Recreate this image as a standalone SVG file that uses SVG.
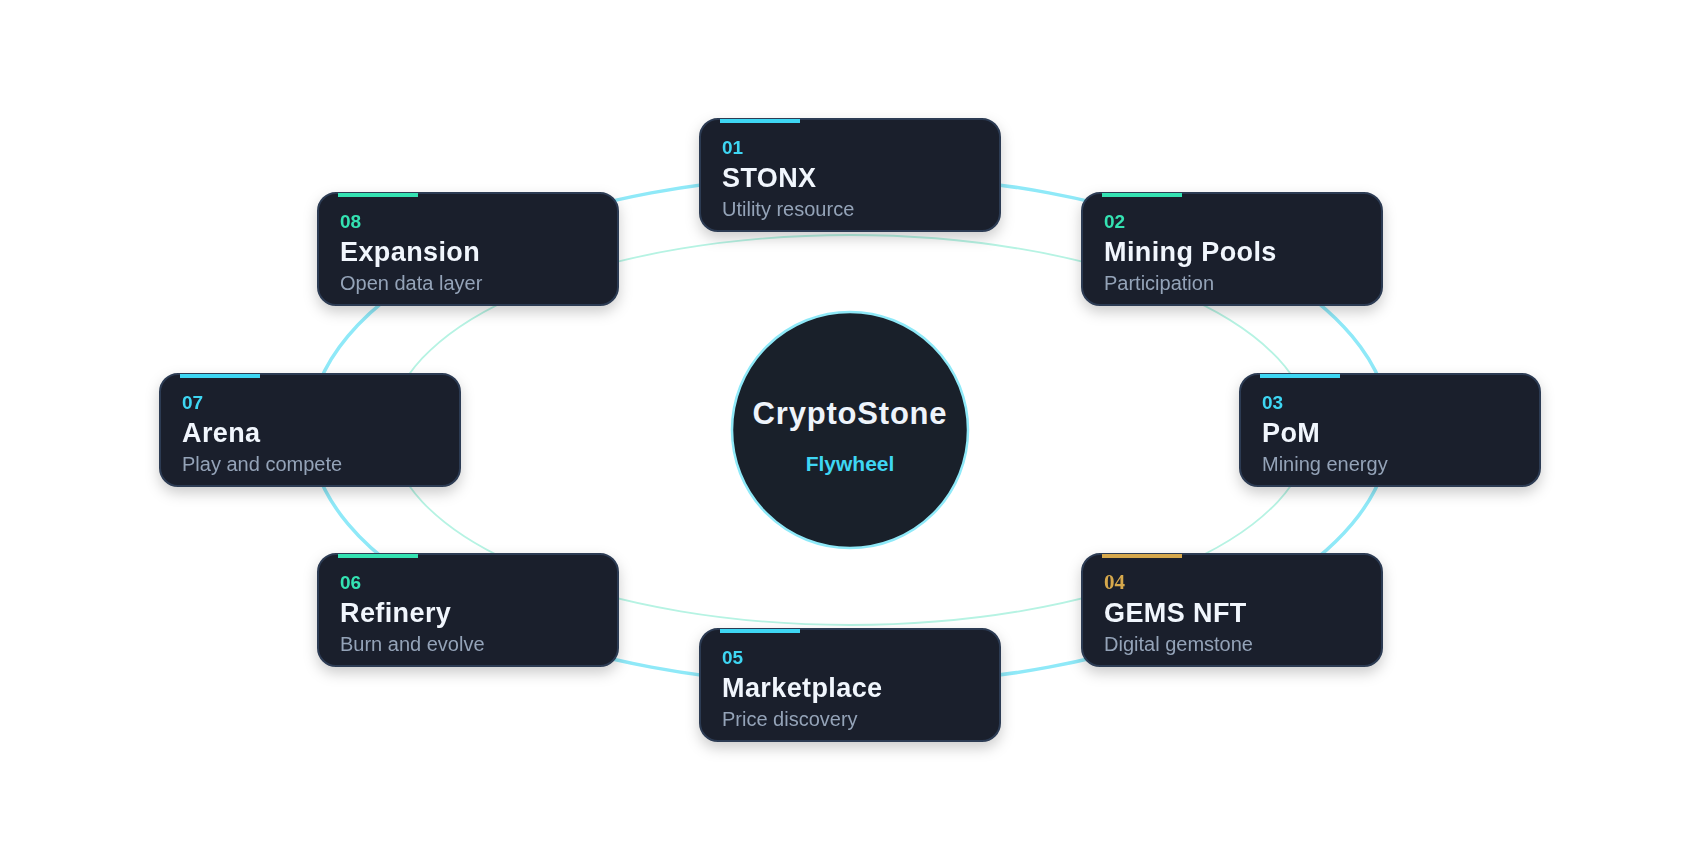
<svg xmlns="http://www.w3.org/2000/svg" width="1700" height="860" viewBox="0 0 1700 860">
  <defs>
    <filter id="shadow" x="-20%" y="-30%" width="140%" height="170%" color-interpolation-filters="sRGB">
      <feDropShadow dx="0" dy="6" stdDeviation="7" flood-color="#000000" flood-opacity="0.2"/>
    </filter>
    <style>
      .card { fill: #1a1f2c; stroke: #2c3b53; stroke-width: 2; }
      .num { font-family: "Liberation Sans", Arial, sans-serif; font-weight: bold; font-size: 19px; }
      .num-serif { font-family: "Liberation Serif", "Times New Roman", serif; font-weight: bold; font-size: 21px; }
      .title { font-family: "Liberation Sans", Arial, sans-serif; font-weight: bold; font-size: 27px; fill: #f1f6fd; letter-spacing: 0.4px; }
      .sub { font-family: "Liberation Sans", Arial, sans-serif; font-size: 20px; fill: #94a3b8; }
      .cyan { fill: #3ed6f3; }
      .green { fill: #34e2b2; }
      .gold { fill: #d6a84c; }
    </style>
  </defs>
  <rect width="1700" height="860" fill="#ffffff"/>

  <g id="connectors">
    <ellipse cx="850" cy="430" rx="540" ry="255" fill="none" stroke="#8fe9f8" stroke-width="3.5"/>
    <ellipse cx="850" cy="430" rx="460" ry="195" fill="none" stroke="#b6f3e3" stroke-width="1.8"/>
  </g>

  <g id="center">
    <circle cx="850" cy="430" r="118" fill="#19202a" stroke="#8fe9f8" stroke-width="2.5"/>
    <text x="850" y="424" text-anchor="middle" font-family="Liberation Sans, Arial, sans-serif" font-weight="bold" font-size="31" letter-spacing="0.8" fill="#eef4fb">CryptoStone</text>
    <text x="850" y="471" text-anchor="middle" font-family="Liberation Sans, Arial, sans-serif" font-weight="bold" font-size="21" fill="#3ed6f3">Flywheel</text>
  </g>

  <g id="node-01" filter="url(#shadow)">
    <rect class="card" x="700" y="119" width="300" height="112" rx="18"/>
    <rect class="cyan" x="720" y="119" width="80" height="4"/>
    <text class="num cyan" x="722" y="154">01</text>
    <text class="title" x="722" y="187">STONX</text>
    <text class="sub" x="722" y="216">Utility resource</text>
  </g>

  <g id="node-02" filter="url(#shadow)">
    <rect class="card" x="1082" y="193" width="300" height="112" rx="18"/>
    <rect class="green" x="1102" y="193" width="80" height="4"/>
    <text class="num green" x="1104" y="228">02</text>
    <text class="title" x="1104" y="261">Mining Pools</text>
    <text class="sub" x="1104" y="290">Participation</text>
  </g>

  <g id="node-03" filter="url(#shadow)">
    <rect class="card" x="1240" y="374" width="300" height="112" rx="18"/>
    <rect class="cyan" x="1260" y="374" width="80" height="4"/>
    <text class="num cyan" x="1262" y="409">03</text>
    <text class="title" x="1262" y="442">PoM</text>
    <text class="sub" x="1262" y="471">Mining energy</text>
  </g>

  <g id="node-04" filter="url(#shadow)">
    <rect class="card" x="1082" y="554" width="300" height="112" rx="18"/>
    <rect class="gold" x="1102" y="554" width="80" height="4"/>
    <text class="num-serif gold" x="1104" y="589">04</text>
    <text class="title" x="1104" y="622">GEMS NFT</text>
    <text class="sub" x="1104" y="651">Digital gemstone</text>
  </g>

  <g id="node-05" filter="url(#shadow)">
    <rect class="card" x="700" y="629" width="300" height="112" rx="18"/>
    <rect class="cyan" x="720" y="629" width="80" height="4"/>
    <text class="num cyan" x="722" y="664">05</text>
    <text class="title" x="722" y="697">Marketplace</text>
    <text class="sub" x="722" y="726">Price discovery</text>
  </g>

  <g id="node-06" filter="url(#shadow)">
    <rect class="card" x="318" y="554" width="300" height="112" rx="18"/>
    <rect class="green" x="338" y="554" width="80" height="4"/>
    <text class="num green" x="340" y="589">06</text>
    <text class="title" x="340" y="622">Refinery</text>
    <text class="sub" x="340" y="651">Burn and evolve</text>
  </g>

  <g id="node-07" filter="url(#shadow)">
    <rect class="card" x="160" y="374" width="300" height="112" rx="18"/>
    <rect class="cyan" x="180" y="374" width="80" height="4"/>
    <text class="num cyan" x="182" y="409">07</text>
    <text class="title" x="182" y="442">Arena</text>
    <text class="sub" x="182" y="471">Play and compete</text>
  </g>

  <g id="node-08" filter="url(#shadow)">
    <rect class="card" x="318" y="193" width="300" height="112" rx="18"/>
    <rect class="green" x="338" y="193" width="80" height="4"/>
    <text class="num green" x="340" y="228">08</text>
    <text class="title" x="340" y="261">Expansion</text>
    <text class="sub" x="340" y="290">Open data layer</text>
  </g>
</svg>
